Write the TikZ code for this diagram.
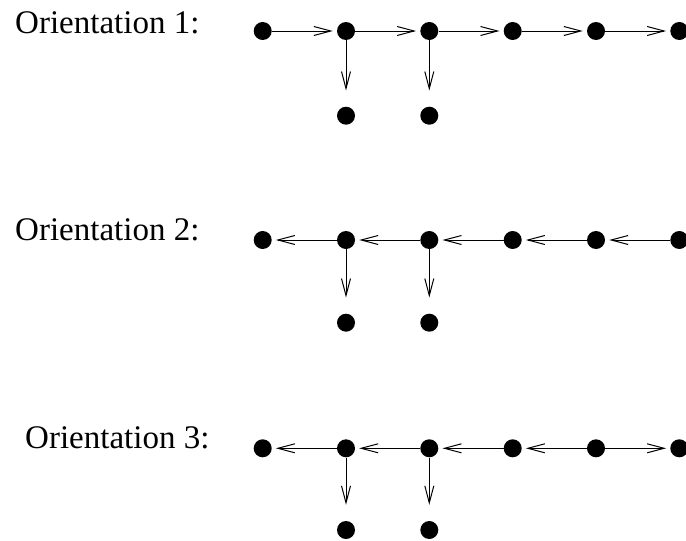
\documentclass[tikz,border=0pt]{standalone}
\usepackage{fontspec}
\setmainfont{Liberation Serif}
\usetikzlibrary{arrows.meta}

\tikzset{
  vtx/.style={circle,fill=black,inner sep=0pt,minimum size=18pt},
  lbl/.style={anchor=base west,inner sep=0pt,font=\fontsize{33}{40}\selectfont},
  edg/.style={line width=1pt,-{Straight Barb[length=17pt,width=9pt,line width=1pt]},shorten >=4pt},
  dwn/.style={edg,shorten >=16pt}
}

\begin{document}
\begin{tikzpicture}[x=1pt,y=-1pt]
\useasboundingbox (0,0) rectangle (686,541);
\clip (0,0) rectangle (686,541);
% orientation 1
\node[lbl] (t1) at (15,33) {Orientation 1:};
\node[vtx] (a1) at (262.7,31) {};
\node[vtx] (a2) at (346,31) {};
\node[vtx] (a3) at (429.3,31) {};
\node[vtx] (a4) at (512.7,31) {};
\node[vtx] (a5) at (596,31) {};
\node[vtx] (a6) at (679.3,31) {};
\node[vtx] (a7) at (346,115.7) {};
\node[vtx] (a8) at (429.3,115.7) {};
\draw[edg] (a1) -- (a2);
\draw[edg] (a2) -- (a3);
\draw[edg] (a3) -- (a4);
\draw[edg] (a4) -- (a5);
\draw[edg] (a5) -- (a6);
\draw[dwn] (a2) -- (a7);
\draw[dwn] (a3) -- (a8);
% orientation 2
\node[lbl] (t2) at (15,240.7) {Orientation 2:};
\node[vtx] (b1) at (262.7,240) {};
\node[vtx] (b2) at (346,240) {};
\node[vtx] (b3) at (429.3,240) {};
\node[vtx] (b4) at (512.7,240) {};
\node[vtx] (b5) at (596,240) {};
\node[vtx] (b6) at (679.3,240) {};
\node[vtx] (b7) at (346,322.7) {};
\node[vtx] (b8) at (429.3,322.7) {};
\draw[edg] (b2) -- (b1);
\draw[edg] (b3) -- (b2);
\draw[edg] (b4) -- (b3);
\draw[edg] (b5) -- (b4);
\draw[edg] (b6) -- (b5);
\draw[dwn] (b2) -- (b7);
\draw[dwn] (b3) -- (b8);
% orientation 3
\node[lbl] (t3) at (25,448.3) {Orientation 3:};
\node[vtx] (c1) at (262.7,448.3) {};
\node[vtx] (c2) at (346,448.3) {};
\node[vtx] (c3) at (429.3,448.3) {};
\node[vtx] (c4) at (512.7,448.3) {};
\node[vtx] (c5) at (596,448.3) {};
\node[vtx] (c6) at (679.3,448.3) {};
\node[vtx] (c7) at (346,530) {};
\node[vtx] (c8) at (429.3,530) {};
\draw[edg] (c2) -- (c1);
\draw[edg] (c3) -- (c2);
\draw[edg] (c4) -- (c3);
\draw[edg] (c5) -- (c4);
\draw[edg] (c5) -- (c6);
\draw[dwn] (c2) -- (c7);
\draw[dwn] (c3) -- (c8);
\end{tikzpicture}
\end{document}
